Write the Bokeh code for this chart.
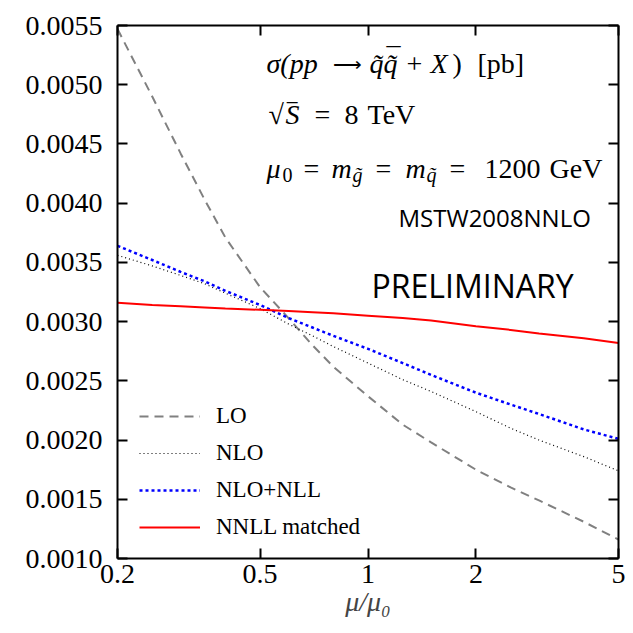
from bokeh.plotting import figure
from bokeh.models import Range1d, LogAxis, LinearAxis, FixedTicker, CustomJSTickFormatter, Label
from bokeh.embed import file_html
from bokeh.resources import INLINE

# ---- data ----
mu_ratio = [0.2, 0.25, 0.3, 0.35, 0.4, 0.5, 0.6, 0.7, 0.8, 1.0, 1.25, 1.5, 2.0, 2.5, 3.0, 4.0, 5.0]
sigma_lo = [0.00547, 0.00490, 0.00442, 0.00403, 0.00371, 0.00329, 0.00303, 0.00280, 0.00262,
            0.00237, 0.00213, 0.00198, 0.00175, 0.00160, 0.00149, 0.00131, 0.00116]
sigma_nlo = [0.00356, 0.00347, 0.00339, 0.00332, 0.00324, 0.00311, 0.00298, 0.00288, 0.00279,
             0.00265, 0.00251, 0.00241, 0.00224, 0.00210, 0.00200, 0.00186, 0.00174]
sigma_nlo_nll = [0.00364, 0.00352, 0.00342, 0.00334, 0.00326, 0.00314, 0.00303, 0.00295, 0.00288,
                 0.00277, 0.00265, 0.00255, 0.00240, 0.00230, 0.00222, 0.00209, 0.00201]
sigma_nnll = [0.00316, 0.00314, 0.00313, 0.00312, 0.00311, 0.00310, 0.00309, 0.00308, 0.00307,
              0.00305, 0.00303, 0.00301, 0.00296, 0.00293, 0.00290, 0.00286, 0.00282]

x_ticks = [0.2, 0.5, 1, 2, 5]
y_ticks = [0.0010, 0.0015, 0.0020, 0.0025, 0.0030, 0.0035, 0.0040, 0.0045, 0.0050, 0.0055]
series_labels = ["LO", "NLO", "NLO+NLL", "NNLL matched"]

SERIF = "Liberation Serif"
SANS = "Open Sans"

p = figure(width=633, height=633, x_axis_type="log",
           x_range=Range1d(0.2, 5), y_range=Range1d(0.0010, 0.0055),
           output_backend="svg", toolbar_location=None,
           min_border_left=117, min_border_right=15, min_border_top=25, min_border_bottom=75)
p.grid.visible = False
p.outline_line_color = None
p.background_fill_color = "white"
p.border_fill_color = "white"

def style_axis(ax, show_labels, font=SERIF):
    ax.axis_line_width = 2
    ax.axis_line_color = "black"
    ax.major_tick_line_width = 2
    ax.major_tick_line_color = "black"
    ax.major_tick_in = 10
    ax.major_tick_out = 0
    ax.minor_tick_line_color = None
    if show_labels:
        ax.major_label_text_font = font
        ax.major_label_text_font_size = "28px"
        ax.major_label_text_font_style = "normal"
        ax.major_label_text_color = "black"
    else:
        ax.major_label_text_color = None
        ax.major_label_text_font_size = "0px"
        ax.major_label_standoff = 0

xa = p.xaxis[0]
xa.ticker = FixedTicker(ticks=x_ticks)
xa.formatter = CustomJSTickFormatter(code="return String(tick);")
style_axis(xa, True)
xa.major_label_standoff = 6
xa.axis_label = "μ/μ₀"
xa.axis_label_text_font = SERIF
xa.axis_label_text_font_size = "28px"
xa.axis_label_text_font_style = "italic"
xa.axis_label_standoff = 0

ya = p.yaxis[0]
ya.ticker = FixedTicker(ticks=y_ticks)
ya.formatter = CustomJSTickFormatter(code="return tick.toFixed(4);")
style_axis(ya, True)
ya.major_label_standoff = 15

top = LogAxis(ticker=FixedTicker(ticks=x_ticks))
style_axis(top, False)
p.add_layout(top, "above")
right = LinearAxis(ticker=FixedTicker(ticks=y_ticks))
style_axis(right, False)
p.add_layout(right, "right")

p.line(mu_ratio, sigma_lo, line_color="#808080", line_width=2, line_dash="9 6", legend_label=series_labels[0])
p.line(mu_ratio, sigma_nlo, line_color="black", line_width=1.2, line_dash="1 3", legend_label=series_labels[1])
p.line(mu_ratio, sigma_nlo_nll, line_color="#0000ff", line_width=2.5, line_dash="3 3", legend_label=series_labels[2])
p.line(mu_ratio, sigma_nnll, line_color="#ff0000", line_width=2, legend_label=series_labels[3])

leg = p.legend[0]
leg.location = (22, 16)
leg.border_line_color = None
leg.background_fill_alpha = 0
leg.padding = 0
leg.margin = 0
leg.spacing = 7
leg.glyph_width = 61
leg.glyph_height = 30
leg.label_standoff = 16
leg.label_text_font = SERIF
leg.label_text_font_size = "23px"
leg.label_text_color = "black"

# text placement helpers (reference pixel -> data coords)
def fx(px):
    return 0.2 * 25 ** ((px - 117) / 501)

def fy(py):
    return 0.0055 - (py - 24.7) * 0.0045 / 533

pieces = [
    ("σ(pp", 266, 63, 28, "italic", SERIF),
    ("⟶", 332, 63, 20, "normal", SERIF),
    ("q\u0303q\u0303", 369, 63, 28, "italic", SERIF),
    ("\u00af", 386, 57, 28, "normal", SERIF),
    ("+", 406, 63, 28, "normal", SERIF),
    ("X", 430, 63, 28, "italic", SERIF),
    (")", 452, 63, 28, "normal", SERIF),
    ("[pb]", 477, 63, 28, "normal", SERIF),
    ("√", 268, 114, 28, "normal", SERIF),
    ("\u203e", 287, 114, 28, "normal", SERIF),
    ("S", 285, 114, 28, "italic", SERIF),
    ("=", 314, 114, 28, "normal", SERIF),
    ("8", 344, 114, 28, "normal", SERIF),
    ("TeV", 367, 114, 28, "normal", SERIF),
    ("μ", 266, 168, 28, "italic", SERIF),
    ("0", 282, 174, 20, "normal", SERIF),
    ("=", 303, 168, 28, "normal", SERIF),
    ("m", 331, 168, 28, "italic", SERIF),
    ("g\u0303", 352, 174, 20, "italic", SERIF),
    ("=", 375, 168, 28, "normal", SERIF),
    ("m", 405, 168, 28, "italic", SERIF),
    ("q\u0303", 426, 174, 20, "italic", SERIF),
    ("=", 449, 168, 28, "normal", SERIF),
    ("1200", 484, 168, 28, "normal", SERIF),
    ("GeV", 549, 168, 28, "normal", SERIF),
    ("MSTW2008NNLO", 398, 217, 24, "normal", SANS),
    ("PRELIMINARY", 371, 285, 32, "normal", SANS),
]
for txt, px, py, size, style, font in pieces:
    p.add_layout(Label(x=fx(px), y=fy(py), text=txt, text_font=font,
                       text_font_size=f"{size}px", text_font_style=style,
                       text_color="black", text_baseline="alphabetic", text_align="left"))

open("out.html", "w").write(file_html(p, INLINE))
